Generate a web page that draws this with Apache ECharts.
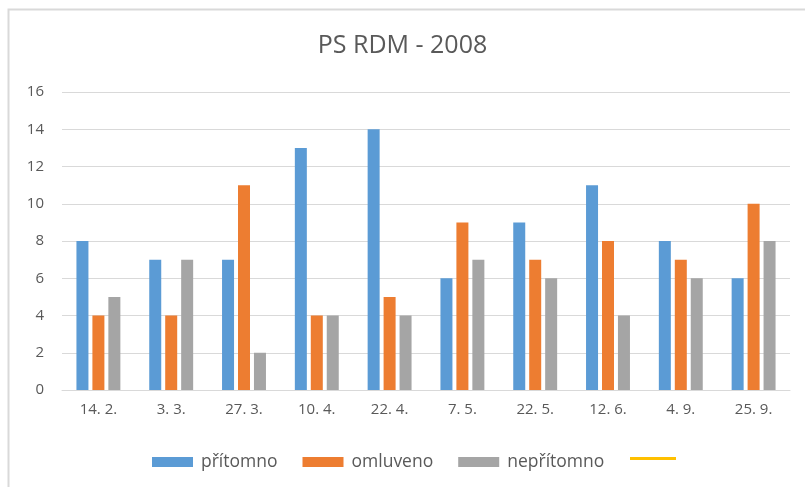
<!DOCTYPE html>
<html>
<head>
<meta charset="utf-8">
<script src="https://cdn.jsdelivr.net/npm/echarts@6/dist/echarts.min.js"></script>
<style>
html,body{margin:0;padding:0;background:#fff;}
#chart{width:805px;height:487px;}
</style>
</head>
<body>
<div id="chart"></div>
<script>
const categories = ['14. 2.', '3. 3.', '27. 3.', '10. 4.', '22. 4.', '7. 5.', '22. 5.', '12. 6.', '4. 9.', '25. 9.'];
const pritomno   = [8, 7, 7, 13, 14, 6, 9, 11, 8, 6];
const omluveno   = [4, 4, 11, 4, 5, 9, 7, 8, 7, 10];
const nepritomno = [5, 7, 2, 4, 4, 7, 6, 4, 6, 8];
const extraLine  = [null, null, null, null, null, null, null, null, null, null];
const yTicks = {min: 0, max: 16, interval: 2};

const FONT = 'Open Sans';
const chart = echarts.init(document.getElementById('chart'), null, {renderer: 'canvas'});
chart.setOption({
  animation: false,
  backgroundColor: '#fff',
  textStyle: {fontFamily: FONT},
  title: {
    text: 'PS RDM - 2008',
    left: 'center',
    top: 28,
    textStyle: {fontFamily: FONT, fontSize: 25, fontWeight: 'normal', color: '#595959'}
  },
  graphic: [{
    type: 'rect', shape: {x: 8.5, y: 9.5, width: 900, height: 600},
    style: {fill: 'none', stroke: '#d9d9d9', lineWidth: 2}, silent: true, z: -1
  }],
  legend: [{
    data: ['přítomno', 'omluveno', 'nepřítomno'],
    left: 147, top: 448,
    icon: 'rect', itemWidth: 41, itemHeight: 10, itemGap: 25,
    textStyle: {fontFamily: FONT, fontSize: 17.5, color: '#595959', padding: [0, 0, 0, 3]}
  }, {
    data: [{name: ' ', icon: 'rect'}],
    left: 625, top: 452,
    itemWidth: 46, itemHeight: 3,
    textStyle: {fontSize: 1}
  }],
  grid: {left: 62, right: 15, top: 92, bottom: 97},
  xAxis: {
    type: 'category',
    data: categories,
    axisTick: {show: false},
    axisLine: {lineStyle: {color: '#d9d9d9', width: 1}},
    axisLabel: {fontFamily: FONT, fontSize: 15, color: '#595959', margin: 12}
  },
  yAxis: {
    type: 'value',
    min: yTicks.min, max: yTicks.max, interval: yTicks.interval,
    axisLine: {show: false}, axisTick: {show: false},
    splitLine: {lineStyle: {color: '#d9d9d9', width: 1}},
    axisLabel: {fontFamily: FONT, fontSize: 15, color: '#595959', margin: 18}
  },
  series: [
    {name: 'přítomno', type: 'bar', data: pritomno, barWidth: 12, barGap: '33%', itemStyle: {color: '#5B9BD5'}},
    {name: 'omluveno', type: 'bar', data: omluveno, barWidth: 12, barGap: '33%', itemStyle: {color: '#ED7D31'}},
    {name: 'nepřítomno', type: 'bar', data: nepritomno, barWidth: 12, barGap: '33%', itemStyle: {color: '#A5A5A5'}},
    {name: ' ', type: 'line', data: extraLine, showSymbol: false, itemStyle: {color: '#FFC000'}, lineStyle: {color: '#FFC000', width: 3}}
  ]
});
</script>
</body>
</html>
